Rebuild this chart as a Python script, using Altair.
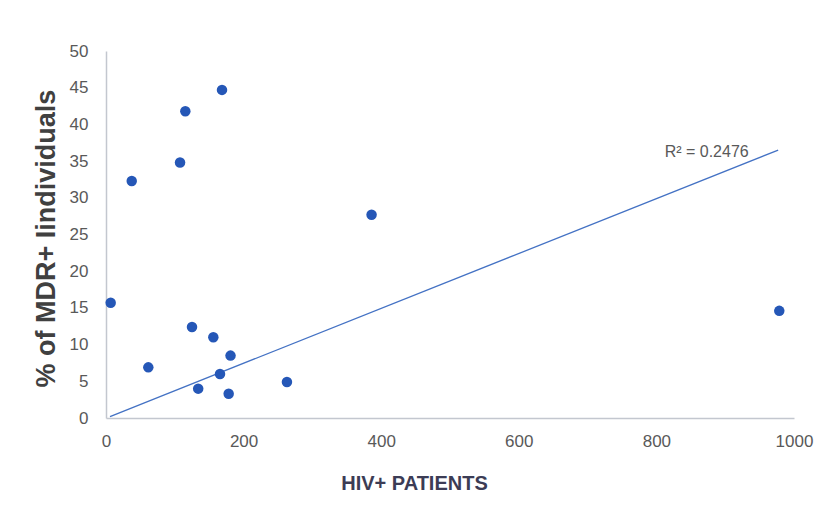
import altair as alt
import pandas as pd

# Data
hiv_patients = [6.8, 37.4, 61.5, 107.6, 115.3, 168.6, 125, 156, 181, 165.7, 134, 178.3, 263, 386, 978.6]
mdr_percent = [15.7, 32.3, 6.9, 34.8, 41.8, 44.7, 12.4, 11.0, 8.5, 6.0, 4.0, 3.3, 4.9, 27.7, 14.6]

trend_x = [5.8, 977]
trend_y = [0.2, 36.5]

r2_label = ["R² = 0.2476"]
r2_x = [812]
r2_y = [36.2]

x_ticks = [0, 200, 400, 600, 800, 1000]
y_ticks = [0, 5, 10, 15, 20, 25, 30, 35, 40, 45, 50]

pts = pd.DataFrame({"x": hiv_patients, "y": mdr_percent})
trend = pd.DataFrame({"x": trend_x, "y": trend_y})
ann = pd.DataFrame({"x": r2_x, "y": r2_y, "t": r2_label})

xscale = alt.Scale(domain=[0, 1000], nice=False, zero=True)
yscale = alt.Scale(domain=[0, 50], nice=False)

FONT = "Liberation Sans"

xaxis = alt.Axis(
    values=x_ticks,
    format="d",
    title="HIV+ PATIENTS",
    grid=False, ticks=False,
    domainColor="#c3c7cf", domainWidth=1.5,
    labelFont=FONT, labelFontSize=17, labelColor="#595959", labelPadding=15,
    labelOverlap=False, labelFlush=False,
    titleFont=FONT, titleFontSize=20, titleFontWeight="bold", titleColor="#3c3c55",
    titleX=308, titleY=65, titleAlign="center", titleBaseline="middle",
)
yaxis = alt.Axis(
    values=y_ticks,
    tickCount=11,
    format="d",
    title="% of  MDR+ Iindividuals",
    grid=False, ticks=False,
    domainColor="#c3c7cf", domainWidth=1.5,
    labelFont=FONT, labelFontSize=17, labelColor="#595959", labelPadding=18,
    labelOverlap=False, labelFlush=False,
    titleFont=FONT, titleFontSize=27, titleFontWeight="bold", titleColor="#404040",
    titleX=-60, titleY=187, titleAlign="center", titleBaseline="middle", titleAngle=-90,
)

X = alt.X("x:Q", scale=xscale, axis=xaxis)
Y = alt.Y("y:Q", scale=yscale, axis=yaxis)

line = alt.Chart(trend).mark_line(color="#4472c4", strokeWidth=1.3).encode(x=X, y=Y)

points = alt.Chart(pts).mark_circle(size=110, color="#2557b7", opacity=1).encode(x=X, y=Y)

text = alt.Chart(ann).mark_text(
    font=FONT, fontSize=16, color="#595959", align="left", baseline="middle"
).encode(x=X, y=Y, text="t:N")

chart = (
    alt.layer(line, points, text)
    .properties(
        width=688,
        height=367,
        autosize=alt.AutoSizeParams(type="none"),
        padding={"left": 98, "top": 43, "right": 26, "bottom": 100},
        background="white",
    )
    .configure_view(stroke=None)
)

chart.save("out.html", embed_options={"renderer": "svg", "actions": False})
